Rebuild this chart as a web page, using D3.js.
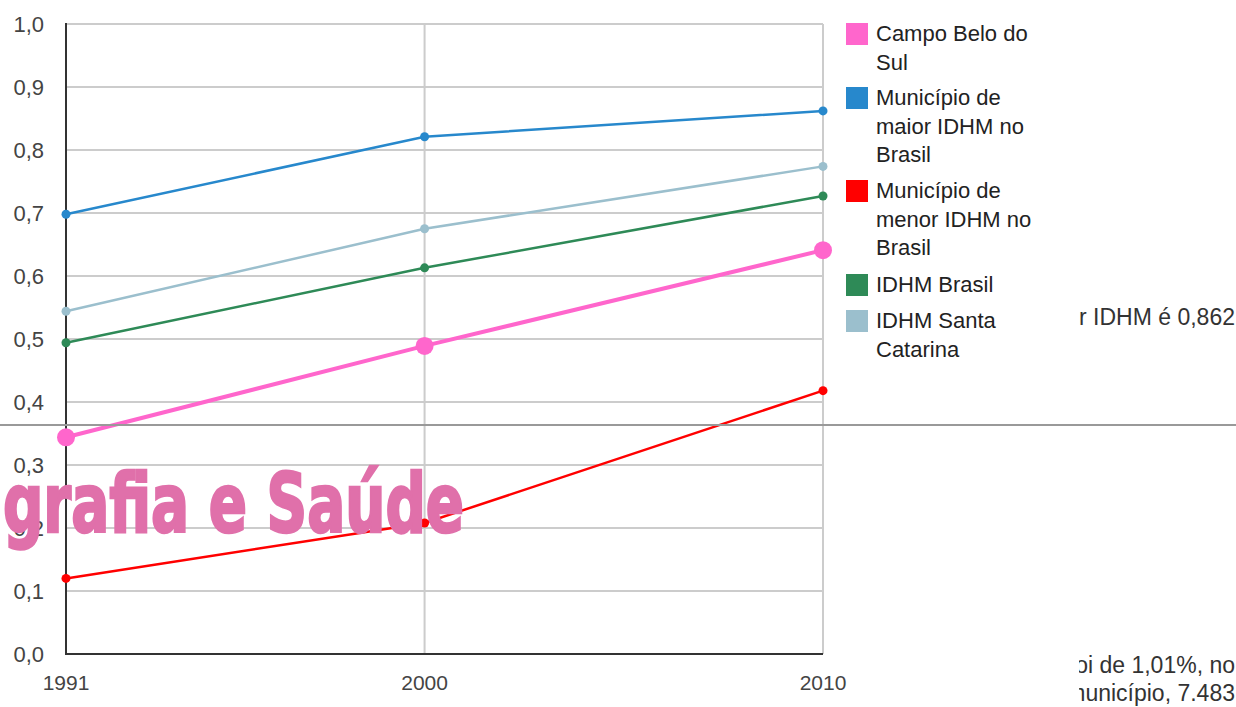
<!DOCTYPE html>
<html>
<head>
<meta charset="utf-8">
<style>
  body { margin: 0; background: #fff; }
  svg text { font-family: "Liberation Sans", Arial, sans-serif; }
</style>
<script src="https://cdn.jsdelivr.net/npm/d3@7"></script>
</head>
<body>
<div id="chart"></div>
<script>
// data
var years = [1991, 2000, 2010];
var campoBelo = [0.344, 0.489, 0.641];
var maiorIdhm = [0.698, 0.821, 0.862];
var menorIdhm = [0.120, 0.208, 0.418];
var idhmBrasil = [0.494, 0.613, 0.727];
var idhmSC = [0.544, 0.675, 0.774];
var yTicks = [0, 0.1, 0.2, 0.3, 0.4, 0.5, 0.6, 0.7, 0.8, 0.9, 1.0];

var series = [
  { name: ["Campo Belo do", "Sul"], values: campoBelo, color: "#ff66cc", width: 4, r: 9 },
  { name: ["Município de", "maior IDHM no", "Brasil"], values: maiorIdhm, color: "#2788cc", width: 2.5, r: 4.5 },
  { name: ["Município de", "menor IDHM no", "Brasil"], values: menorIdhm, color: "#ff0000", width: 2.5, r: 4.5 },
  { name: ["IDHM Brasil"], values: idhmBrasil, color: "#2e8a57", width: 2.5, r: 4.5 },
  { name: ["IDHM Santa", "Catarina"], values: idhmSC, color: "#9bbfcd", width: 2.5, r: 4.5 }
];
// draw order: pink on top
var drawOrder = [4, 3, 1, 2, 0];

var W = 1236, H = 707;
var x = d3.scaleLinear().domain([1991, 2010]).range([66, 823]);
var y = d3.scaleLinear().domain([0, 1]).range([654, 24]);
var fmt = function(d) { return d3.format(".1f")(d).replace(".", ","); };

var svg = d3.select("#chart").append("svg")
    .attr("width", W).attr("height", H);

// page text behind the chart (clipped)
svg.append("clipPath").attr("id", "pageclip")
  .append("rect").attr("x", 1079).attr("y", 0).attr("width", 200).attr("height", H);
var page = svg.append("g").attr("clip-path", "url(#pageclip)")
    .style("font-size", "23px").attr("fill", "#333");
page.append("text").attr("x", 1235).attr("y", 325).attr("text-anchor", "end").text("maior IDHM é 0,862");
page.append("text").attr("x", 1235).attr("y", 673).attr("text-anchor", "end").text("foi de 1,01%, no");
page.append("text").attr("x", 1235).attr("y", 701).attr("text-anchor", "end").text("município, 7.483");

// grid
svg.append("g").selectAll("line").data(yTicks.slice(1)).join("line")
  .attr("x1", x(1991)).attr("x2", x(2010))
  .attr("y1", d => y(d)).attr("y2", d => y(d))
  .attr("stroke", "#cccccc").attr("stroke-width", 2);
svg.append("g").selectAll("line").data(years.slice(1)).join("line")
  .attr("x1", d => x(d)).attr("x2", d => x(d))
  .attr("y1", y(1)).attr("y2", y(0))
  .attr("stroke", "#cccccc").attr("stroke-width", 2);

// axes
svg.append("line").attr("x1", x(1991)).attr("x2", x(1991)).attr("y1", y(1) - 1).attr("y2", y(0) + 1)
  .attr("stroke", "#333").attr("stroke-width", 2);
svg.append("line").attr("x1", x(1991) - 1).attr("x2", x(2010)).attr("y1", y(0)).attr("y2", y(0))
  .attr("stroke", "#333").attr("stroke-width", 2);

svg.append("g").selectAll("text").data(yTicks).join("text")
  .attr("x", 44).attr("y", d => y(d) + 8)
  .attr("text-anchor", "end").attr("fill", "#444").style("font-size", "22px")
  .text(fmt);
svg.append("g").selectAll("text").data(years).join("text")
  .attr("x", d => x(d)).attr("y", 690)
  .attr("text-anchor", "middle").attr("fill", "#444").style("font-size", "21px")
  .text(d => d);

// lines
var line = d3.line().x((d, i) => x(years[i])).y(d => y(d));
drawOrder.forEach(function(k) {
  var s = series[k];
  var g = svg.append("g");
  g.append("path").attr("d", line(s.values)).attr("fill", "none")
    .attr("stroke", s.color).attr("stroke-width", s.width);
  g.selectAll("circle").data(s.values).join("circle")
    .attr("cx", (d, i) => x(years[i])).attr("cy", d => y(d))
    .attr("r", s.r).attr("fill", s.color);
});

// legend
var legTops = [23, 87, 180, 274, 310];
series.forEach(function(s, i) {
  var g = svg.append("g").attr("transform", "translate(846," + legTops[i] + ")");
  g.append("rect").attr("width", 22).attr("height", 22).attr("fill", s.color);
  g.selectAll("text").data(s.name).join("text")
    .attr("x", 30).attr("y", (d, j) => 18 + j * 28.5)
    .attr("fill", "#222").style("font-size", "22px")
    .text(d => d);
});

// page elements on top
svg.append("line").attr("x1", 0).attr("x2", W).attr("y1", 425).attr("y2", 425)
  .attr("stroke", "#999").attr("stroke-width", 2);
svg.append("text").attr("x", 3).attr("y", 532)
  .attr("textLength", 461).attr("lengthAdjust", "spacingAndGlyphs")
  .attr("fill", "#e070aa").attr("stroke", "#e070aa").attr("stroke-width", 2.5)
  .style("font-weight", "bold").style("font-size", "82px")
  .style("font-family", "'Liberation Sans Narrow', 'DejaVu Sans Condensed', sans-serif")
  .text("grafia e Saúde");
</script>
</body>
</html>
